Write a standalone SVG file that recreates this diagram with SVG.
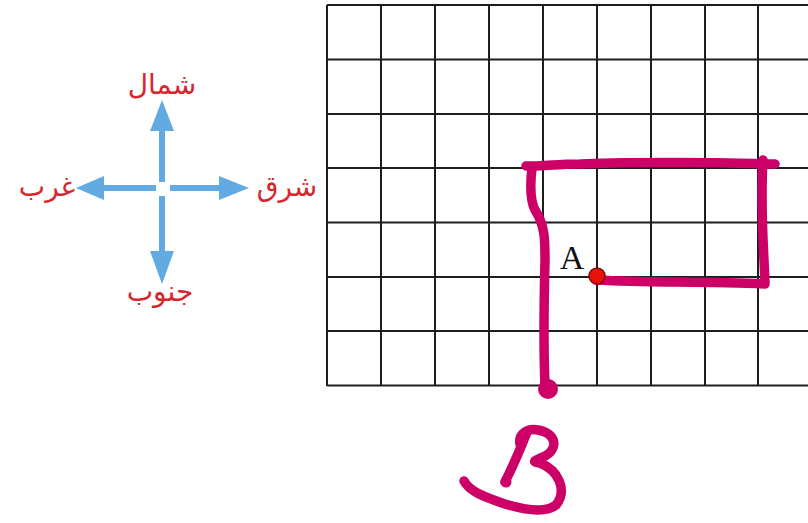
<svg xmlns="http://www.w3.org/2000/svg" width="808" height="523" viewBox="0 0 808 523">
<style>
.grid line{stroke:#1e1e1e;stroke-width:2}
.ar{stroke:#62aae2;stroke-width:6;fill:none}
.ah{fill:#62aae2}
.lbl{font-family:"DejaVu Sans",sans-serif;font-size:28px;fill:#d8262c;text-anchor:middle}
.ink{stroke:#cc0066;stroke-width:9.5;fill:none;stroke-linecap:round;stroke-linejoin:round}
</style>
<rect width="808" height="523" fill="#fff"/>
<g id="grid" class="grid">
<line x1="327" y1="5" x2="808" y2="5"/>
<line x1="327" y1="59.5" x2="808" y2="59.5"/>
<line x1="327" y1="114" x2="808" y2="114"/>
<line x1="327" y1="168" x2="808" y2="168"/>
<line x1="327" y1="222.5" x2="808" y2="222.5"/>
<line x1="327" y1="277" x2="808" y2="277"/>
<line x1="327" y1="331" x2="808" y2="331"/>
<line x1="327" y1="385.5" x2="808" y2="385.5"/>
<line x1="327" y1="5" x2="327" y2="386"/>
<line x1="381" y1="5" x2="381" y2="386"/>
<line x1="435" y1="5" x2="435" y2="386"/>
<line x1="489" y1="5" x2="489" y2="386"/>
<line x1="543" y1="5" x2="543" y2="386"/>
<line x1="597" y1="5" x2="597" y2="386"/>
<line x1="651" y1="5" x2="651" y2="386"/>
<line x1="705" y1="5" x2="705" y2="386"/>
<line x1="758" y1="5" x2="758" y2="386"/>
</g>
<g id="compass">
<line class="ar" x1="162" y1="182" x2="162" y2="125"/>
<polygon class="ah" points="162,100 150,131 174,131"/>
<line class="ar" x1="162" y1="196" x2="162" y2="255"/>
<polygon class="ah" points="162,284 150,251 174,251"/>
<line class="ar" x1="156" y1="188" x2="100" y2="188"/>
<polygon class="ah" points="76,188 104,176 104,200"/>
<line class="ar" x1="170" y1="188" x2="222" y2="188"/>
<polygon class="ah" points="249,188 219,176 219,200"/>
</g>
<g id="labels">
<text class="lbl" x="162" y="94">شمال</text>
<text class="lbl" x="47" y="196">غرب</text>
<text class="lbl" x="287" y="196">شرق</text>
<text class="lbl" x="160" y="301">جنوب</text>
</g>
<g id="connectors">
<path class="ink" d="M597,280 C650,283 700,281 765,284 C764,250 760,210 763,160"/>
<path class="ink" d="M775,164 C700,162 640,162 580,164 C560,164 540,166 526,166"/>
<path class="ink" d="M532,168 C530,185 530,200 535,210 C545,225 545,240 545,260 C544,300 543,340 545,385"/>
<circle cx="548" cy="389" r="10" fill="#cc0066"/>
</g>
<g id="pointA">
<circle cx="597" cy="276" r="8" fill="#e8120c" stroke="#7a0f0a" stroke-width="1.5"/>
<text x="572" y="269" font-family="Liberation Serif,serif" font-size="34" fill="#111" text-anchor="middle">A</text>
</g>
<g id="pointB">
<path class="ink" d="M505,482 C512,468 520,450 527,432"/>
<path class="ink" d="M520,444 C518,434 527,428 538,430 C556,433 560,449 543,457 C533,461 532,462 540,463 C558,470 568,490 556,505 C546,513 525,510 505,504 C485,497 470,492 464,481"/>
<circle cx="506" cy="482" r="5.5" fill="#cc0066"/>
</g>
</svg>
